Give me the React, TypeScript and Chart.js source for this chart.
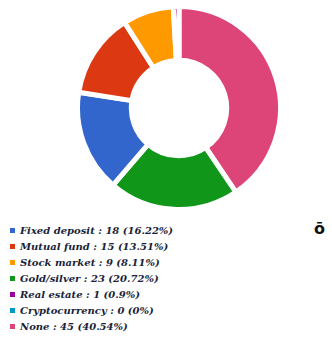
import React, { useEffect, useRef } from "react";
import { Chart, registerables } from "chart.js";

Chart.register(...registerables);

const categories = [
  "Fixed deposit",
  "Mutual fund",
  "Stock market",
  "Gold/silver",
  "Real estate",
  "Cryptocurrency",
  "None",
];
const counts = [18, 15, 9, 23, 1, 0, 45];
const percentLabels = ["16.22%", "13.51%", "8.11%", "20.72%", "0.9%", "0%", "40.54%"];
const colors = ["#3366cc", "#dc3912", "#ff9900", "#109618", "#990099", "#0099c6", "#dd4477"];

export default function App() {
  const ref = useRef<HTMLCanvasElement | null>(null);

  useEffect(() => {
    if (!ref.current) return;
    // chart draws slices sorted from largest to smallest
    const order = counts
      .map((v, i) => i)
      .sort((a, b) => counts[b] - counts[a]);
    const chart = new Chart(ref.current, {
      type: "doughnut",
      data: {
        labels: order.map((i) => categories[i]),
        datasets: [
          {
            data: order.map((i) => counts[i]),
            backgroundColor: order.map((i) => colors[i]),
            borderColor: "#ffffff",
            borderWidth: 5,
            hoverOffset: 0,
          },
        ],
      },
      options: {
        responsive: false,
        animation: false,
        cutout: "47%",
        layout: { padding: 0 },
        plugins: {
          legend: { display: false },
          tooltip: { enabled: false },
          title: { display: false },
        },
      },
    });
    return () => chart.destroy();
  }, []);

  return (
    <div style={{ position: "absolute", left: 0, top: 0, width: 332, height: 340, background: "#fff", overflow: "hidden" }}>
      <canvas ref={ref} width={208} height={208} style={{ position: "absolute", left: 75, top: 4, width: 208, height: 208 }} />
      <div style={{ position: "absolute", left: 10, top: 222 }}>
        {categories.map((c, i) => (
          <div key={c} style={{ display: "flex", alignItems: "center", height: 16, whiteSpace: "nowrap" }}>
            <span style={{ display: "inline-block", width: 5, height: 5, background: colors[i], marginRight: 5 }} />
            <span style={{ fontFamily: "'DejaVu Serif', serif", fontStyle: "italic", fontWeight: "bold", fontSize: 10, color: "#1a1f3a" }}>
              {`${c} : ${counts[i]} (${percentLabels[i]})`}
            </span>
          </div>
        ))}
      </div>
      <div style={{ position: "absolute", left: 314, top: 219, fontFamily: "'DejaVu Sans', sans-serif", fontWeight: "bold", fontSize: 16, color: "#111" }}>ō</div>
    </div>
  );
}
